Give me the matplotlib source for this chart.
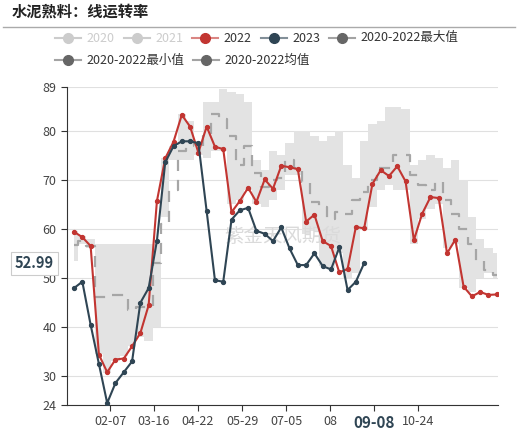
import matplotlib
matplotlib.use("Agg")
import matplotlib.pyplot as plt
import numpy as np

plt.rcParams['font.family'] = ['Noto Sans CJK SC', 'DejaVu Sans']

v2022 = [59.4, 58.3, 56.5, 34.3, 30.7, 33.3, 33.5, 36.0, 38.7, 44.4, 65.7, 74.4, 77.8, 83.3, 80.9, 75.6,
         80.9, 76.8, 76.3, 63.4, 65.7, 68.4, 65.5, 70.1, 68.2, 72.9, 72.6, 72.2, 61.5, 62.9, 57.5, 56.5,
         51.1, 51.8, 60.4, 60.1, 69.2, 72.0, 70.8, 72.8, 69.7, 57.7, 63.1, 66.5, 66.3, 55.0, 57.8, 48.2,
         46.2, 47.1, 46.5, 46.6]
v2023 = [47.9, 49.2, 40.4, 32.4, 24.4, 28.5, 30.7, 32.9, 44.9, 47.9, 57.6, 73.6, 76.9, 77.9, 77.9, 77.5,
         63.6, 49.5, 49.2, 61.9, 63.8, 64.3, 59.6, 59.0, 57.5, 60.3, 56.0, 52.6, 52.6, 55.0, 52.4, 51.7,
         56.2, 47.5, 49.2, 52.99]
vmax = [59.5, 58.5, 58, 57, 57, 57, 57, 57, 57, 57, 57, 74.5, 77, 83.5, 82, 78, 86, 86, 88.5, 88, 87.5, 86,
        74, 72, 76, 75, 77.5, 80, 80, 79, 78, 79, 80, 73, 70.5, 78, 81.5, 82, 85, 85, 84.5, 73, 74, 75,
        74.5, 72.5, 74, 70, 62.5, 58, 56, 55]
vmin = [53.5, 57, 56, 34.5, 30.5, 33, 34, 36, 38, 37, 40, 62.5, 74, 74, 74, 75, 74.5, 76, 76, 65, 66, 68,
        65, 64.5, 66, 68, 71, 71, 59, 59.5, 52.5, 52, 55, 50, 51, 60, 64.5, 68, 69, 68, 68, 57, 62, 64,
        65, 56, 57, 48, 47, 50, 51, 50]
vmean = [56.7, 57.5, 56.5, 46, 46, 46.5, 46.5, 43.5, 44, 44, 53, 61, 68, 76, 78, 77, 79, 83.5, 82.5, 79,
         73, 77, 71.5, 68.5, 70, 70.5, 74, 72.5, 69.5, 65.5, 64.5, 62, 63.5, 63, 66, 67.5, 70, 72.5, 72.5,
         75, 75, 71, 69, 68, 69.5, 66, 63, 60, 57, 53.5, 51.5, 50.5]
tick_labels = ['02-07', '03-16', '04-22', '05-29', '07-05', '08', '09-08', '10-24']
yticks = [24, 30, 40, 50, 60, 70, 80, 89]

fig = plt.figure(figsize=(5.18, 4.34), dpi=100)
ax = fig.add_axes([67/518, 1-405/434, (498-67)/518, (405-87)/434])

x = np.arange(len(v2022))
x23 = np.arange(len(v2023))
ax.fill_between(x, vmin, vmax, step='mid', color='#e3e3e3', lw=0, zorder=1)
ax.plot(x, vmean, drawstyle='steps-mid', color='#a6a6a6', lw=1.6, dashes=(5, 4), zorder=2)
ax.plot(x, v2022, color='#c23531', lw=1.5, marker='o', ms=2.8, zorder=4)
ax.plot(x23, v2023, color='#2f4554', lw=1.5, marker='o', ms=2.8, zorder=5)

ax.set_xlim(-0.85, 51.15)
ax.set_ylim(24, 89)
ax.set_yticks(yticks)
ax.set_yticklabels([str(t) for t in yticks], fontsize=9, color='#444444')
for t in yticks:
    ax.axhline(t, color='#e0e0e0', lw=0.8, zorder=0)
tpos = [4.34 + 5.31*k for k in range(len(tick_labels))]
ax.set_xticks(tpos)
ax.set_xticklabels(tick_labels, fontsize=9, color='#444444')
lbl = ax.get_xticklabels()[6]
lbl.set_fontweight('bold'); lbl.set_color('#2f4554'); lbl.set_fontsize(11)
ax.tick_params(axis='both', length=4, color='#333333')
for s in ['top', 'right']:
    ax.spines[s].set_visible(False)
for s in ['left', 'bottom']:
    ax.spines[s].set_color('#333333')

ax.text(0.5, 0.53, '紫金天风期货', transform=ax.transAxes, fontsize=14, color='#dadada',
        ha='center', va='center', zorder=3)
ax.text(-0.03, 52.99, '52.99', transform=ax.get_yaxis_transform(), ha='right', va='center',
        fontsize=10.5, fontweight='bold', color='#2f4554',
        bbox=dict(boxstyle='square,pad=0.25', fc='white', ec='#cccccc', lw=0.8), zorder=10, clip_on=False)

fig.text(12/518, 1-12/434, '水泥熟料：线运转率', fontsize=11, fontweight='bold',
         color='#222222', va='center')
fig.add_artist(plt.Line2D([3/518, 515/518], [1-27/434, 1-27/434], color='#aaaaaa', lw=1))

def leg(xp, yp, color, tcolor, text):
    y = 1 - yp/434
    fig.add_artist(plt.Line2D([xp/518, (xp+26)/518], [y, y], color=color, lw=1.5, alpha=0.6 if tcolor != '#cccccc' else 1))
    fig.add_artist(plt.Line2D([(xp+13)/518], [y], color=color, marker='o', ms=7))
    fig.text((xp+31)/518, y, text, fontsize=9, color=tcolor, va='center')

leg(55, 38, '#cccccc', '#cccccc', '2020')
leg(124, 38, '#cccccc', '#cccccc', '2021')
leg(192, 38, '#c23531', '#333333', '2022')
leg(261, 38, '#2f4554', '#333333', '2023')
leg(329, 38, '#666666', '#333333', '2020-2022最大值')
leg(55, 60, '#666666', '#333333', '2020-2022最小值')
leg(193, 60, '#666666', '#333333', '2020-2022均值')

fig.savefig('out.png', dpi=100)
